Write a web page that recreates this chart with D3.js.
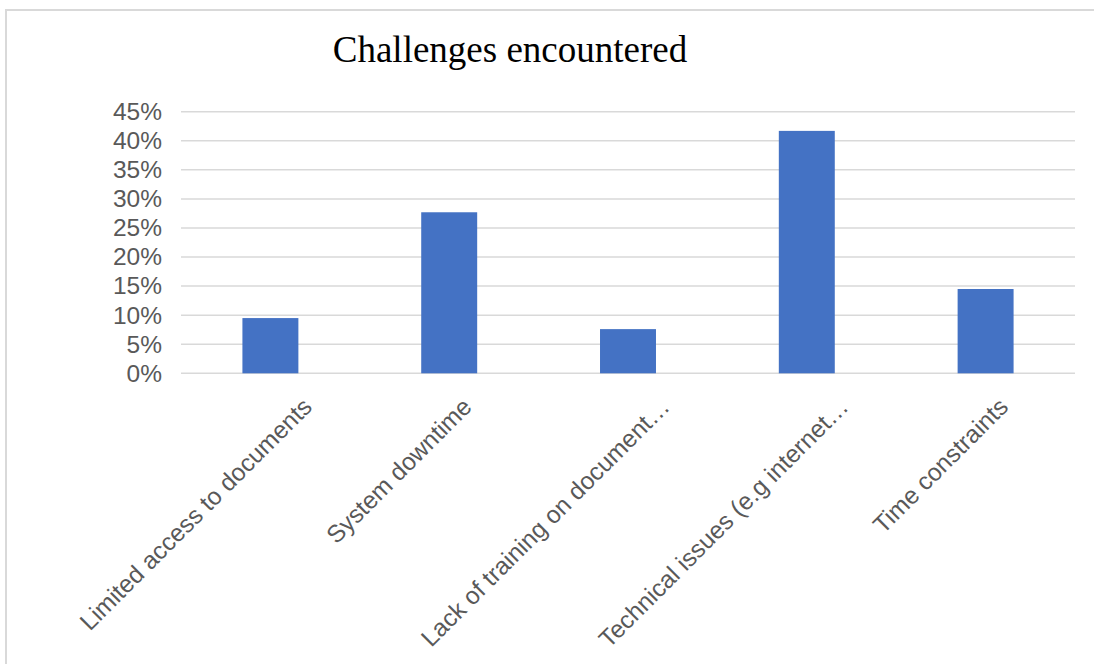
<!DOCTYPE html>
<html>
<head>
<meta charset="utf-8">
<script src="https://cdn.jsdelivr.net/npm/d3@7"></script>
<style>
  body { margin: 0; background: #fff; }
</style>
</head>
<body>
<script>
// chart data
const categories = [
  "Limited access to documents",
  "System downtime",
  "Lack of training on document\u2026",
  "Technical issues (e.g internet\u2026",
  "Time constraints"
];
const values = [0.095, 0.277, 0.076, 0.417, 0.145];
const yTicks = [0, 0.05, 0.10, 0.15, 0.20, 0.25, 0.30, 0.35, 0.40, 0.45];
const title = "Challenges encountered";

const width = 1094, height = 664;
const margin = { left: 181, right: 19, top: 111.7, bottom: 290.7 };
const plotW = width - margin.left - margin.right;
const plotH = height - margin.top - margin.bottom;

const svg = d3.select("body")
  .append("svg")
  .attr("width", width)
  .attr("height", height);

// outer frame (only top and left edges are visible)
svg.append("rect")
  .attr("x", 6)
  .attr("y", 10)
  .attr("width", width + 20)
  .attr("height", height + 20)
  .attr("fill", "none")
  .attr("stroke", "#d9d9d9")
  .attr("stroke-width", 2);

svg.append("text")
  .attr("x", 510)
  .attr("y", 62)
  .attr("text-anchor", "middle")
  .style("font-family", "'Liberation Serif', 'Times New Roman', serif")
  .style("font-size", "37px")
  .style("fill", "#000")
  .text(title);

const g = svg.append("g")
  .attr("transform", `translate(${margin.left},${margin.top})`);

const xScale = d3.scaleBand(categories, [0, plotW])
  .paddingInner(0.687)
  .paddingOuter(0.3435);
const yScale = d3.scaleLinear([0, 0.45], [plotH, 0]);

// gridlines
g.selectAll("line.grid")
  .data(yTicks)
  .join("line")
  .attr("class", "grid")
  .attr("x1", 0)
  .attr("x2", plotW)
  .attr("y1", d => yScale(d))
  .attr("y2", d => yScale(d))
  .attr("stroke", "#d9d9d9")
  .attr("stroke-width", 1.5);

// y axis labels
const yAxis = d3.axisLeft(yScale)
  .tickValues(yTicks)
  .tickFormat(d3.format(".0%"))
  .tickSize(0)
  .tickPadding(19);
const yG = g.append("g").call(yAxis);
yG.select(".domain").remove();
yG.selectAll("text")
  .style("font-family", "'Liberation Sans', Arial, sans-serif")
  .style("font-size", "24.5px")
  .style("fill", "#595959");

// bars
g.selectAll("rect.bar")
  .data(values)
  .join("rect")
  .attr("class", "bar")
  .attr("x", (d, i) => xScale(categories[i]))
  .attr("width", xScale.bandwidth())
  .attr("y", d => yScale(d))
  .attr("height", d => plotH - yScale(d))
  .attr("fill", "#4472c4");

// rotated category labels
const labels = g.selectAll("text.cat")
  .data(categories)
  .join("text")
  .attr("class", "cat")
  .attr("text-anchor", "end")
  .style("font-family", "'Liberation Sans', Arial, sans-serif")
  .style("font-size", "24.5px")
  .style("fill", "#595959")
  .text(d => d);

labels.attr("transform", function (d) {
  const cx = xScale(d) + xScale.bandwidth() / 2;
  // long labels sit a bit further right than short ones
  const shift = this.getComputedTextLength() > 260 ? 43 : 24;
  return `translate(${cx + shift},${plotH + 35}) rotate(-45)`;
});
</script>
</body>
</html>
